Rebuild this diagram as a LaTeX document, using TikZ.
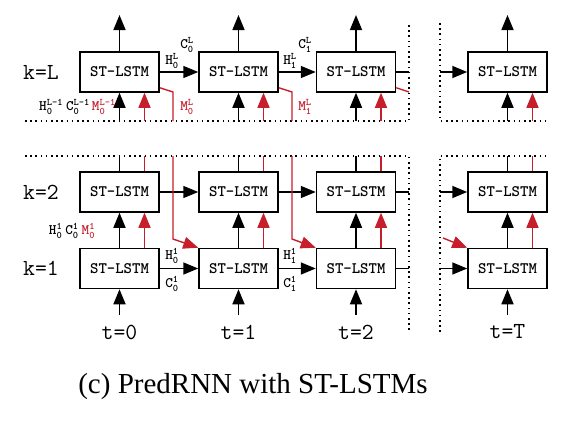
\documentclass[tikz,border=0pt]{standalone}
\usepackage{fontspec}
\setmainfont{Liberation Serif}
\usetikzlibrary{arrows.meta,calc}
\definecolor{pred}{RGB}{198,30,42}
\newcommand\supfont{\fontsize{10}{10}\selectfont}
\newcommand\hc[3]{$\mbox{#1}^{\mbox{\supfont #3}}_{\mbox{\supfont #2}}$}
\tikzset{
  box/.style={draw, line width=1.5pt, minimum width=79pt, minimum height=40pt, inner sep=0pt, font=\ttfamily\bfseries\fontsize{16}{16}\selectfont},
  klab/.style={font=\ttfamily\fontsize{23}{23}\selectfont, inner sep=0pt},
  sub/.style={font=\ttfamily\bfseries\fontsize{14.5}{14.5}\selectfont, inner sep=0pt},
  arr/.style={line width=1.6pt, -{Triangle[length=15pt,width=12pt]}},
  rarr/.style={draw=pred, line width=1.4pt, -{Triangle[length=15pt,width=12pt]}, color=pred},
  ln/.style={line width=1.6pt},
  rln/.style={draw=pred, line width=1.4pt},
  frame/.style={line width=1.4pt, dash pattern=on 1.6pt off 3.6pt},
}
\begin{document}
\begin{tikzpicture}[x=1pt,y=-1pt]
\useasboundingbox (0,0) rectangle (584,423);
\foreach \i/\x in {1/119.5,2/238.5,3/356,T/507.5}{
  \node[box] (L\i) at (\x,72) {ST-LSTM};
  \node[box] (B\i) at (\x,192) {ST-LSTM};
  \node[box] (A\i) at (\x,268.5) {ST-LSTM};
  \coordinate (top\i) at (\x,15);
  \coordinate (lin\i) at (\x,121);
  \coordinate (rin\i) at (\x+25,121);
  \coordinate (bk\i) at (\x,156);
  \coordinate (rk\i) at (\x+25,156);
  \coordinate (in\i) at (\x,315);
  \draw[arr] (L\i.north) -- (top\i);
  \draw[arr] (lin\i) -- (L\i.south);
  \draw[rarr] (rin\i) -- (L\i.south -| rin\i);
  \draw[ln] (bk\i) -- (B\i.north);
  \draw[rln] (rk\i) -- (B\i.north -| rk\i);
  \draw[arr] (A\i.north) -- (B\i.south);
  \draw[rarr] (A\i.north -| rk\i) -- (B\i.south -| rk\i);
  \draw[arr] (in\i) -- (A\i.south);
}
% frames
\coordinate (f1) at (25,121); \coordinate (f2) at (409,121); \coordinate (f3) at (409,23);
\coordinate (f4) at (440,23); \coordinate (f5) at (440,121); \coordinate (f6) at (548,121);
\draw[frame] (f1) -- (f2) -- (f3);
\draw[frame] (f4) -- (f5) -- (f6);
\coordinate (g1) at (25,156); \coordinate (g2) at (409,156); \coordinate (g3) at (409,332);
\coordinate (g4) at (440,332); \coordinate (g5) at (440,156); \coordinate (g6) at (548,156);
\draw[frame] (g1) -- (g2) -- (g3);
\draw[frame] (g4) -- (g5) -- (g6);
% horizontal connections
\foreach \r in {L,B,A}{
  \draw[arr] (\r1.east) -- (\r2.west);
  \draw[arr] (\r2.east) -- (\r3.west);
  \coordinate (\r e) at (409,0 |- \r3.east);
  \draw[ln] (\r3.east) -- (\r e);
  \coordinate (\r s) at (440,0 |- \r T.west);
}
\draw[arr] (Ls) -- (LT.west);
\draw[arr] (Bs) -- (BT.west);
\draw[arr] (As) -- (AT.west);
% red M lines in top row
\coordinate (m1a) at (173,92); \coordinate (m1b) at (173,121);
\coordinate (m2a) at (292,92); \coordinate (m2b) at (292,121);
\coordinate (m3a) at (409,92);
\draw[rln] ($(L1.south east)+(0,-5)$) -- (m1a) -- (m1b);
\draw[rln] ($(L2.south east)+(0,-5)$) -- (m2a) -- (m2b);
\draw[rln] ($(L3.south east)+(0,-5)$) -- (m3a);
% red M lines into bottom row
\coordinate (n1a) at (173,156); \coordinate (n1b) at (173,239);
\coordinate (n2a) at (292,156); \coordinate (n2b) at (292,239);
\coordinate (n3b) at (443,238);
\draw[rarr] (n1a) -- (n1b) -- (A2.north west);
\draw[rarr] (n2a) -- (n2b) -- (A3.north west);
\draw[rarr] (n3b) -- (AT.north west);
% labels
\node[klab] (kL) at (41,72) {k=L};
\node[klab] (k2) at (41,192) {k=2};
\node[klab] (k1) at (41,268.5) {k=1};
\node[klab] (t1) at (119.5,332) {t=0};
\node[klab] (t2) at (238.5,332) {t=1};
\node[klab] (t3) at (356,332) {t=2};
\node[klab] (tT) at (507.5,332) {t=T};
\node[sub] (hL0) at (172,61) {\hc{H}{0}{L}};
\node[sub] (cL0) at (187,45) {\hc{C}{0}{L}};
\node[sub] (hL1) at (290,61) {\hc{H}{1}{L}};
\node[sub] (cL1) at (305,45) {\hc{C}{1}{L}};
\node[sub, text=pred] (mL0) at (187,107) {\hc{M}{0}{L}};
\node[sub, text=pred] (mL1) at (305,107) {\hc{M}{1}{L}};
\node[sub, anchor=east] (prev) at (116,107) {\hc{H}{0}{L-1}\hspace{3pt}\hc{C}{0}{L-1}\hspace{2pt}\textcolor{pred}{\hc{M}{0}{L-1}}};
\node[sub] (h10) at (172,256) {\hc{H}{0}{1}};
\node[sub] (c10) at (172,284) {\hc{C}{0}{1}};
\node[sub] (h11) at (290,256) {\hc{H}{1}{1}};
\node[sub] (c11) at (290,284) {\hc{C}{1}{1}};
\node[sub] (first) at (72,231) {\hc{H}{0}{1}\hspace{3pt}\hc{C}{0}{1}\hspace{3pt}\textcolor{pred}{\hc{M}{0}{1}}};
\node[font=\fontsize{29}{29}\selectfont, inner sep=0pt] (cap) at (253,387) {(c) PredRNN with ST-LSTMs};
\end{tikzpicture}
\end{document}
